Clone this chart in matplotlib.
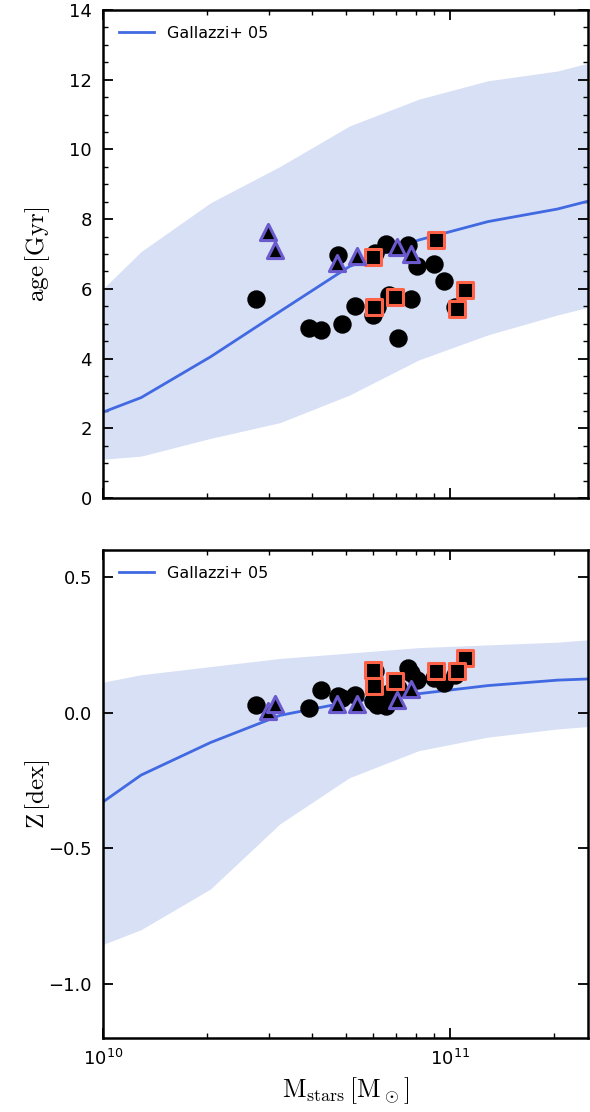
import numpy as np
import matplotlib
matplotlib.use("Agg")
import matplotlib.pyplot as plt
from matplotlib.ticker import MultipleLocator

plt.rcParams.update({
    "font.family": "DejaVu Sans",
    "mathtext.fontset": "cm",
    "xtick.direction": "in",
    "ytick.direction": "in",
    "xtick.top": True,
    "ytick.right": True,
    "axes.linewidth": 1.8,
})

# ── Gallazzi+05 relation (log M*, age in Gyr, Z in dex) ──────────────
g05_logm = [9.91, 10.11, 10.31, 10.51, 10.71, 10.91, 11.11, 11.31, 11.51]
g05_age_med = [2.12, 2.88, 4.05, 5.35, 6.64, 7.40, 7.93, 8.29, 8.80]
g05_age_lo = [1.04, 1.20, 1.71, 2.16, 2.95, 3.96, 4.68, 5.25, 5.75]
g05_age_hi = [5.13, 7.07, 8.47, 9.51, 10.67, 11.44, 11.97, 12.25, 12.76]
g05_z_med = [-0.41, -0.23, -0.11, -0.01, 0.04, 0.07, 0.10, 0.12, 0.13]
g05_z_lo = [-0.90, -0.80, -0.65, -0.41, -0.24, -0.14, -0.09, -0.06, -0.04]
g05_z_hi = [0.09, 0.14, 0.17, 0.20, 0.22, 0.24, 0.25, 0.26, 0.28]

# ── galaxy samples ───────────────────────────────────────────────────
circ_logm = [10.440, 10.593, 10.628, 10.676, 10.688, 10.726, 10.777, 10.784, 10.791,
             10.815, 10.825, 10.851, 10.880, 10.887, 10.904, 10.955, 10.983, 11.016]
circ_age = [5.70, 4.87, 4.82, 6.97, 4.98, 5.51, 5.25, 7.04, 5.47,
            7.29, 5.82, 4.58, 7.26, 5.70, 6.66, 6.70, 6.23, 5.47]
circ_z = [0.027, 0.017, 0.085, 0.063, 0.055, 0.067, 0.042, 0.153, 0.030,
          0.023, 0.073, 0.090, 0.165, 0.147, 0.120, 0.128, 0.110, 0.140]

sq_logm = [10.779, 10.780, 10.841, 10.959, 11.042, 11.021]
sq_age = [6.91, 5.49, 5.78, 7.40, 5.97, 5.41]
sq_z = [0.159, 0.100, 0.116, 0.153, 0.200, 0.153]

tri_logm = [10.475, 10.497, 10.674, 10.731, 10.847, 10.889]
tri_age = [7.64, 7.11, 6.73, 6.94, 7.19, 7.00]
tri_z = [0.005, 0.033, 0.033, 0.033, 0.048, 0.088]

LINE_C = "#4169e1"
BAND_C = "#d8e0f6"


def draw_panel(ax, med, lo, hi, yvals):
    m = 10 ** np.array(g05_logm)
    ax.fill_between(m, lo, hi, color=BAND_C, lw=0, zorder=1)
    ax.plot(m, med, color=LINE_C, lw=2, label="Gallazzi+ 05", zorder=2)
    ax.scatter(10 ** np.array(circ_logm), yvals[0], s=150, c="black",
               edgecolors="black", zorder=3)
    ax.scatter(10 ** np.array(sq_logm), yvals[1], s=125, marker="s", c="black",
               edgecolors="#ff6347", linewidths=2.2, zorder=4)
    ax.scatter(10 ** np.array(tri_logm), yvals[2], s=135, marker="^", c="black",
               edgecolors="#6a5acd", linewidths=2.2, zorder=4)
    ax.set_xscale("log")
    ax.set_xlim(1e10, 2.5e11)
    ax.tick_params(which="major", length=7, width=1.3, labelsize=13, pad=8)
    ax.tick_params(which="minor", length=3.5, width=1.0)
    ax.legend(loc="upper left", frameon=False, fontsize=11.5, handlelength=2.2,
              borderaxespad=0.6)
    ax.yaxis.set_label_coords(-0.105, 0.5)


fig = plt.figure(figsize=(5.9, 11.12), dpi=100)
ax1 = fig.add_axes([0.1746, 0.5522, 0.822, 0.4388])
ax2 = fig.add_axes([0.1746, 0.0665, 0.822, 0.4389])

draw_panel(ax1, g05_age_med, g05_age_lo, g05_age_hi, [circ_age, sq_age, tri_age])
ax1.set_ylim(0, 14)
ax1.yaxis.set_major_locator(MultipleLocator(2))
ax1.yaxis.set_minor_locator(MultipleLocator(0.5))
ax1.tick_params(axis="x", which="both", labelbottom=False)
ax1.set_ylabel(r"$\rm age\,[Gyr]$", fontsize=18)

draw_panel(ax2, g05_z_med, g05_z_lo, g05_z_hi, [circ_z, sq_z, tri_z])
ax2.set_ylim(-1.2, 0.6)
ax2.yaxis.set_major_locator(MultipleLocator(0.5))
ax2.yaxis.set_minor_locator(plt.NullLocator())
ax2.set_ylabel(r"$\rm Z\,[dex]$", fontsize=18)
ax2.set_xlabel(r"$\rm M_{stars}\,[M_\odot]$", fontsize=18.5)

fig.savefig("out.png", dpi=100)
